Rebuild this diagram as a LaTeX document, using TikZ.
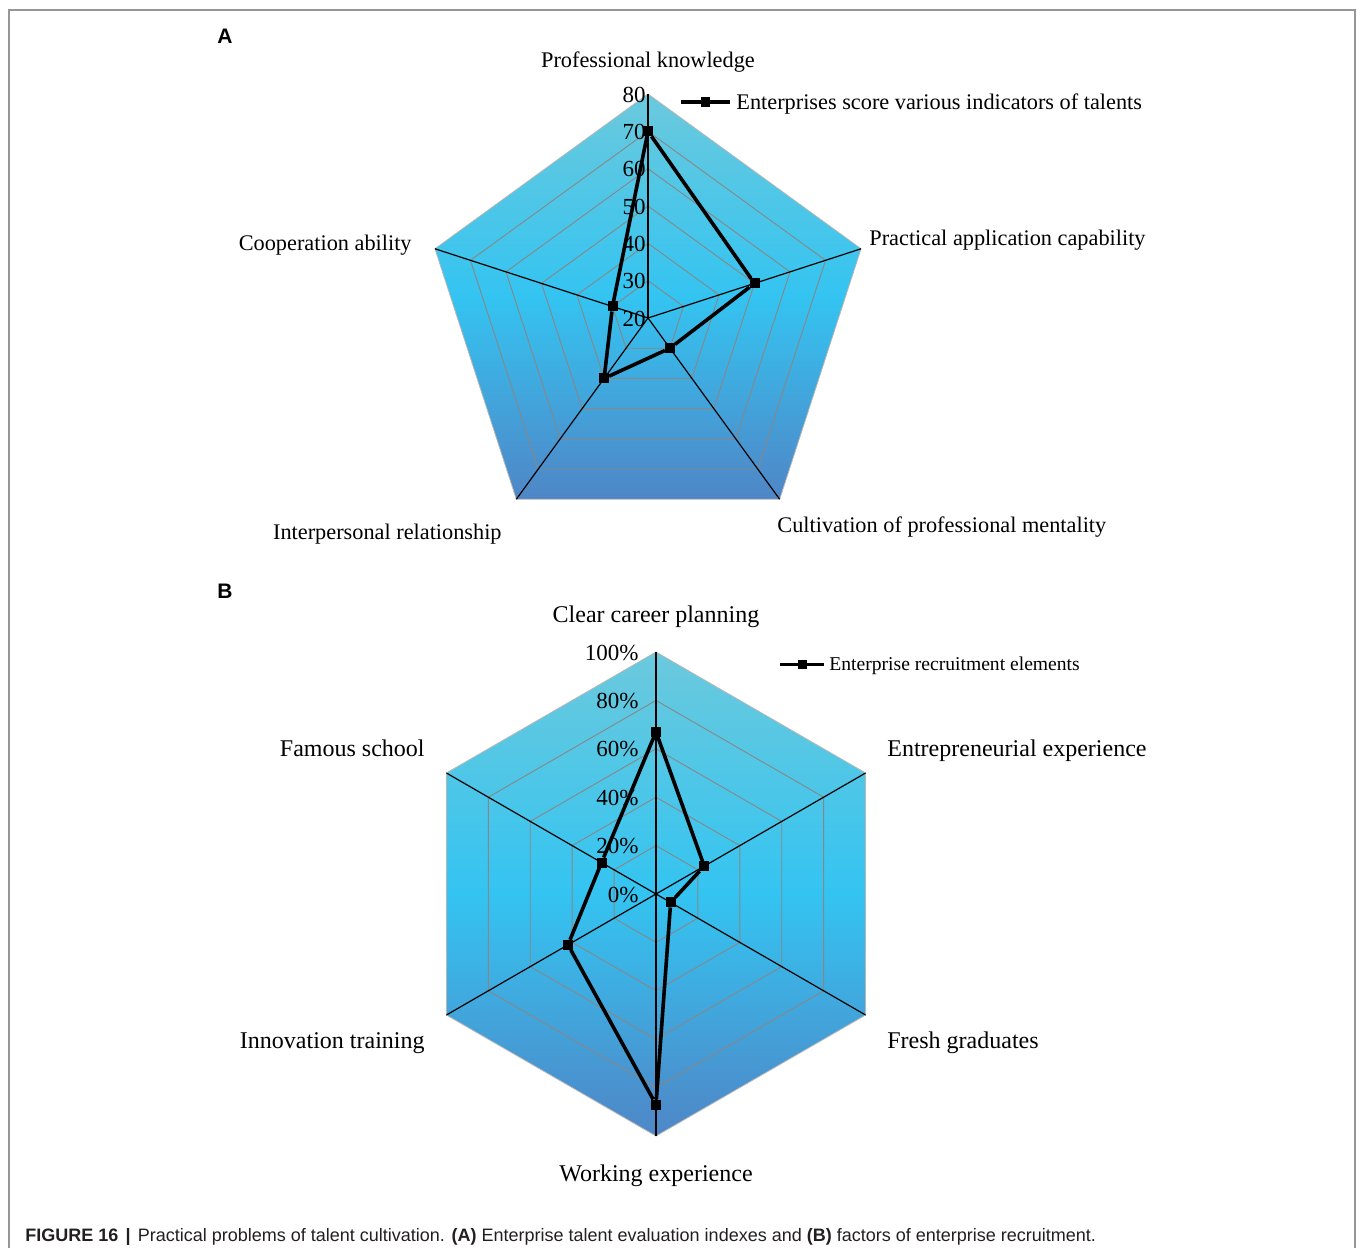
\documentclass[tikz,border=0pt]{standalone}
\usepackage{fontspec}
\setmainfont{Liberation Serif}
\newfontfamily\capfont{Liberation Sans}
\usetikzlibrary{calc}

\definecolor{topteal}{RGB}{107,201,221}
\definecolor{midblue}{RGB}{52,196,241}
\definecolor{botblue}{RGB}{79,134,198}
\definecolor{gridgray}{RGB}{135,135,135}
\definecolor{framegray}{RGB}{150,150,150}
\definecolor{captext}{RGB}{35,31,32}

% vertical fill for the radar areas: teal top, bright cyan middle, deep blue bottom
\pgfdeclareverticalshading{radarfill}{100bp}{%
  color(0bp)=(botblue); color(25bp)=(botblue); color(50bp)=(midblue);
  color(75bp)=(topteal); color(100bp)=(topteal)}

\begin{document}
\begin{tikzpicture}[x=0.5pt,y=0.5pt,
  gridline/.style={draw=gridgray,line width=0.45pt},
  rimline/.style={draw=gridgray!60,line width=0.4pt},
  spoke/.style={draw=black,line width=0.6pt},
  dataline/.style={draw=black,line width=1.8pt},
  marker/.style={fill=black,draw=none,minimum size=5pt,inner sep=0pt,outer sep=0pt},
  radarbg/.style={shading=radarfill,shading angle=0},
  catA/.style={font=\fontsize{11.15pt}{13pt}\selectfont,inner sep=0pt},
  catB/.style={font=\fontsize{12pt}{14pt}\selectfont,inner sep=0pt},
  tick/.style={font=\fontsize{11.5pt}{13pt}\selectfont,inner sep=0pt,anchor=base east},
  legA/.style={font=\fontsize{11.15pt}{13pt}\selectfont,inner sep=0pt,anchor=base west},
  legB/.style={font=\fontsize{9.8pt}{12pt}\selectfont,inner sep=0pt,anchor=base west},
  panel/.style={font=\capfont\bfseries\fontsize{10.5pt}{12pt}\selectfont,inner sep=0pt,anchor=base}
]
\useasboundingbox (0,0) rectangle (1357,-1248);

% outer frame, open at the bottom
\draw[framegray,line width=0.7pt] (9,-1248) -- (9,-10) -- (1355,-10) -- (1355,-1248);

% panel letters
\node[panel] (labA) at (225,-43) {A};
\node[panel] (labB) at (225,-598) {B};

%% ---------------- Panel A: pentagon radar, scale 20--80 ----------------
\begin{scope}[shift={(648,-318)}]
  \coordinate (A0) at (0,0);
  \coordinate (A1) at (90:224);
  \coordinate (A2) at (18:224);
  \coordinate (A3) at (-54:224);
  \coordinate (A4) at (-126:224);
  \coordinate (A5) at (162:224);
  \shade[radarbg] (A1) -- (A2) -- (A3) -- (A4) -- (A5) -- cycle;
  \draw[rimline] (A1) -- (A2) -- (A3) -- (A4) -- (A5) -- cycle;
  \foreach \k in {1,...,5}{
    \pgfmathsetmacro{\r}{224*\k/6}
    \draw[gridline] (90:\r) -- (18:\r) -- (-54:\r) -- (-126:\r) -- (162:\r) -- cycle;
  }
  \foreach \v in {A1,A2,A3,A4,A5}{ \draw[spoke] (A0) -- (\v); }
  % axis values
  \foreach \val [count=\i from 0] in {20,30,40,50,60,70,80}{
    \node[tick] (tA\val) at (-2,{\i*224/6-8}) {\val};
  }
  % scores: 70, 50, 30, 40, 30
  \node[marker] (a1) at (90:186.67) {};
  \node[marker] (a2) at (18:112) {};
  \node[marker] (a3) at (-54:37.33) {};
  \node[marker] (a4) at (-126:74.67) {};
  \node[marker] (a5) at (162:37.33) {};
  \draw[dataline] (a1) -- (a2) -- (a3) -- (a4) -- (a5) -- (a1);
\end{scope}

\node[catA,anchor=base] (pk) at (648,-67) {Professional knowledge};
\node[catA,anchor=base west] (pa) at (869,-245) {Practical application capability};
\node[catA,anchor=base west] (cm) at (777,-532) {Cultivation of professional mentality};
\node[catA,anchor=base east] (ir) at (502,-539) {Interpersonal relationship};
\node[catA,anchor=base east] (ca) at (412,-250) {Cooperation ability};

% legend A
\coordinate (lA1) at (681,-102);
\coordinate (lA2) at (730,-102);
\draw[dataline,line width=1.6pt] (lA1) -- (lA2);
\node[marker,minimum size=4.8pt] (lAm) at (705.5,-102) {};
\node[legA] (lAt) at (736,-109) {Enterprises score various indicators of talents};

%% ---------------- Panel B: hexagon radar, scale 0--100% ----------------
\begin{scope}[shift={(656,-894)}]
  \coordinate (B0) at (0,0);
  \coordinate (B1) at (90:242);
  \coordinate (B2) at (30:242);
  \coordinate (B3) at (-30:242);
  \coordinate (B4) at (-90:242);
  \coordinate (B5) at (-150:242);
  \coordinate (B6) at (150:242);
  \shade[radarbg] (B1) -- (B2) -- (B3) -- (B4) -- (B5) -- (B6) -- cycle;
  \draw[rimline] (B1) -- (B2) -- (B3) -- (B4) -- (B5) -- (B6) -- cycle;
  \foreach \k in {1,...,4}{
    \pgfmathsetmacro{\r}{242*\k/5}
    \draw[gridline] (90:\r) -- (30:\r) -- (-30:\r) -- (-90:\r) -- (-150:\r) -- (150:\r) -- cycle;
  }
  \foreach \v in {B1,B2,B3,B4,B5,B6}{ \draw[spoke] (B0) -- (\v); }
  \foreach \val [count=\i from 0] in {0,20,40,60,80,100}{
    \node[tick] (tB\val) at (-17,{\i*242/5-8}) {\val\%};
  }
  % shares: 67, 23, 7, 87, 42, 26 per cent
  \node[marker] (b1) at (90:162.1) {};
  \node[marker] (b2) at (30:55.7) {};
  \node[marker] (b3) at (-30:16.9) {};
  \node[marker] (b4) at (-90:210.5) {};
  \node[marker] (b5) at (-150:101.6) {};
  \node[marker] (b6) at (150:62.9) {};
  \draw[dataline] (b1) -- (b2) -- (b3) -- (b4) -- (b5) -- (b6) -- (b1);
\end{scope}

\node[catB,anchor=base] (cc) at (656,-622) {Clear career planning};
\node[catB,anchor=base west] (ee) at (887,-756) {Entrepreneurial experience};
\node[catB,anchor=base west] (fg) at (887,-1048) {Fresh graduates};
\node[catB,anchor=base] (we) at (656,-1181) {Working experience};
\node[catB,anchor=base east] (it) at (425,-1048) {Innovation training};
\node[catB,anchor=base east] (fs) at (425,-756) {Famous school};

% legend B
\coordinate (lB1) at (780,-664);
\coordinate (lB2) at (824,-664);
\draw[dataline,line width=1.5pt] (lB1) -- (lB2);
\node[marker,minimum size=4.5pt] (lBm) at (802,-664) {};
\node[legB] (lBt) at (829,-670) {Enterprise recruitment elements};

%% ---------------- caption ----------------
\node[font=\capfont\fontsize{9pt}{11pt}\selectfont,text=captext,inner sep=0pt,anchor=base west] (cap) at (25,-1241)
  {\textbf{FIGURE 16}\hspace{0.4em}\textbf{|}\hspace{0.4em}Practical problems of talent cultivation. \textbf{(A)} Enterprise talent evaluation indexes and \textbf{(B)} factors of enterprise recruitment.};
\end{tikzpicture}
\end{document}
